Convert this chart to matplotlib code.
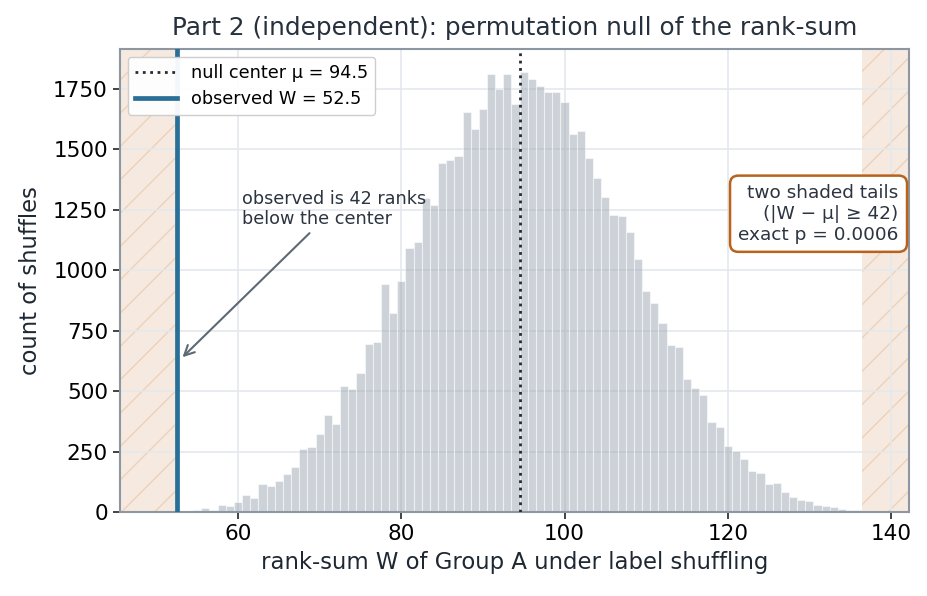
import numpy as np
import matplotlib
matplotlib.use("Agg")
import matplotlib.pyplot as plt

# ---- data ----
w_values = list(range(54, 137))
counts = [6, 10, 17, 9, 28, 24, 42, 71, 58, 115, 108, 128, 157, 184, 260, 267, 324,
          400, 362, 520, 507, 574, 694, 705, 941, 825, 955, 1090, 1115, 1297, 1268,
          1442, 1456, 1471, 1653, 1583, 1666, 1811, 1748, 1811, 1688, 1819, 1790,
          1761, 1736, 1736, 1695, 1562, 1576, 1463, 1381, 1303, 1228, 1224, 1156,
          1045, 914, 863, 780, 690, 682, 548, 511, 483, 374, 353, 272, 254, 217,
          171, 163, 115, 119, 81, 63, 51, 46, 30, 26, 19, 14, 7, 10]
null_center = 94.5
observed_w = 52.5
distance = 42
p_value = "0.0006"
x_ticks = [60, 80, 100, 120, 140]
y_ticks = [0, 250, 500, 750, 1000, 1250, 1500, 1750]

plt.rcParams['font.family'] = ['DejaVu Sans']
plt.rcParams['hatch.linewidth'] = 1.0

fig = plt.figure(figsize=(9.28, 5.96), dpi=100)
ax = fig.add_axes([0.129, 0.141, 0.8505, 0.777])

xlim = (45.5, 142.2)
ax.set_xlim(*xlim)
ax.set_ylim(0, max(counts) * 1.053)

# shaded tails
for lo, hi in [(xlim[0], observed_w), (null_center + distance, xlim[1])]:
    ax.axvspan(lo, hi, facecolor=(0.90, 0.755, 0.643, 0.35), edgecolor='#ecd2ba',
               hatch='/', linewidth=0, zorder=0.5)

ax.bar(w_values, counts, width=1.0, color='#9ba7b3', alpha=0.5,
       edgecolor='white', linewidth=0.8, zorder=2)

ax.axvline(null_center, color='#262b33', linestyle=':', linewidth=2.0, zorder=3,
           label=f'null center \u03bc = {null_center}')
ax.axvline(observed_w, color='#2a6f97', linewidth=3.4, zorder=3,
           label=f'observed W = {observed_w}')

ax.grid(True, color='#e4e8ec', linewidth=1.2, zorder=0)
ax.set_axisbelow(True)

ax.set_xticks(x_ticks)
ax.set_yticks(y_ticks)
ax.tick_params(labelsize=15.5, color='#222222', length=5, width=1.2)
for s in ax.spines.values():
    s.set_color('#8d97a1')
    s.set_linewidth(1.5)

ax.set_xlabel('rank-sum W of Group A under label shuffling', fontsize=16.4,
              color='#1e2833', labelpad=5)
ax.set_ylabel('count of shuffles', fontsize=16.4, color='#1e2833', labelpad=8)
ax.set_title('Part 2 (independent): permutation null of the rank-sum', fontsize=17.8,
             color='#26313d', pad=10)

leg = ax.legend(loc='upper left', fontsize=12.7, framealpha=0.95, edgecolor='#cccccc',
                borderaxespad=0.45, handlelength=2.4, borderpad=0.4, labelspacing=0.45)
leg.set_zorder(5)

ax.annotate(f'observed is {distance} ranks\nbelow the center',
            xy=(observed_w + 0.45, 632), xytext=(60.5, 1253),
            ha='left', va='center', fontsize=12.7, color='#2b3440',
            arrowprops=dict(arrowstyle='->', color='#5d6975', lw=1.5,
                            mutation_scale=18), zorder=4)

ax.text(0.987, 0.644, f'two shaded tails\n(|W \u2212 \u03bc| \u2265 {distance})\nexact p = {p_value}',
        transform=ax.transAxes, ha='right', va='center', fontsize=13.3,
        color='#2b3440', linespacing=1.2, zorder=6,
        bbox=dict(boxstyle='round,pad=0.45', facecolor='white', edgecolor='#b8621b',
                  linewidth=1.8))

fig.savefig('out.png', dpi=100)
